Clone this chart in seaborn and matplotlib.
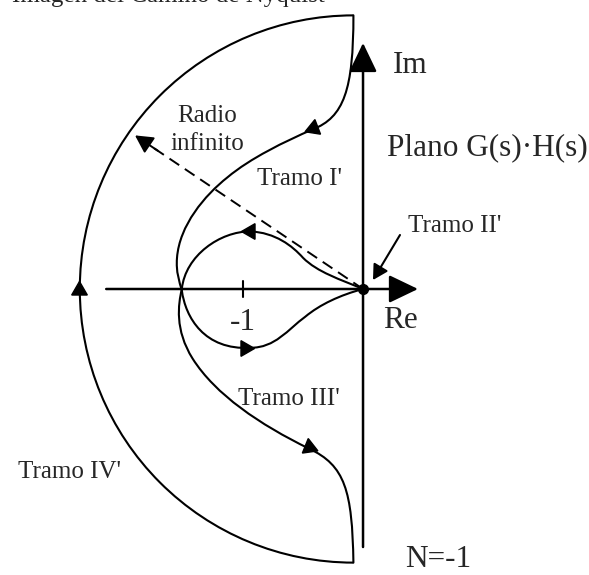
import matplotlib
matplotlib.use("Agg")
import matplotlib.pyplot as plt
import seaborn as sns
from matplotlib.path import Path
from matplotlib.patches import PathPatch, Arc

# Bezier control points in the G(s)H(s) plane (unit = distance from 0 to -1)
# Tramo I': from the top of the big arc, down and into the lower part of the loop, ending at the origin
tramo1_re = [-0.08, -0.08, -0.16, -0.42, -0.65, -0.94, -1.13, -1.32, -1.53, -1.55,
             -1.56, -1.53, -1.51, -1.48, -1.32, -0.94, -0.73, -0.63, -0.48, -0.36, -0.19, 0.0]
tramo1_im = [2.28, 1.66, 1.43, 1.33, 1.23, 1.09, 0.93, 0.78, 0.53, 0.26,
             0.14, 0.06, -0.01, -0.24, -0.51, -0.49, -0.49, -0.34, -0.23, -0.13, -0.05, 0.0]

# Tramo III': from the origin, the upper part of the loop, down to the bottom of the big arc
tramo3_re = [0.0, -0.19, -0.38, -0.50, -0.59, -0.73, -0.94, -1.19, -1.48, -1.51,
             -1.54, -1.57, -1.42, -1.23, -0.86, -0.45, -0.15, -0.09, -0.08]
tramo3_im = [0.0, 0.08, 0.14, 0.26, 0.36, 0.47, 0.48, 0.48, 0.28, 0.0,
             -0.13, -0.34, -0.58, -0.88, -1.13, -1.33, -1.47, -1.68, -2.28]

# Tramo IV': arc of "infinite" radius
arc_center = (-0.08, 0.0)
arc_radius = 2.28

# direction arrows on the contour: position and heading (degrees)
flow_re = [-0.42, -0.94, -0.98, -0.45, -2.37]
flow_im = [1.34, 0.48, -0.49, -1.32, -0.01]
flow_angle = [201, 180, 0, -22, 90]

# Radio infinito line end, point -1
radio_tip = (-1.90, 1.28)
minus_one = -1.0

sns.set_theme(style="white")
plt.rcParams['font.family'] = ['Liberation Serif', 'DejaVu Serif']

fig = plt.figure(figsize=(5.89, 5.75), dpi=100)
ax = fig.add_axes([0, 0, 1, 1])
ax.set_xlim(-3.025, 1.883)
ax.set_ylim(-2.383, 2.408)
ax.set_aspect('equal')
ax.set_axis_off()

lw_curve = 1.5


def bezier(xs, ys):
    codes = [Path.MOVETO] + [Path.CURVE4] * (len(xs) - 1)
    return PathPatch(Path(list(zip(xs, ys)), codes), fill=False,
                     edgecolor='black', lw=lw_curve, capstyle='round')


ax.add_patch(bezier(tramo1_re, tramo1_im))
ax.add_patch(bezier(tramo3_re, tramo3_im))
ax.add_patch(Arc(arc_center, 2 * arc_radius, 2 * arc_radius, theta1=90, theta2=270,
                 color='black', lw=lw_curve))

# flow arrows (triangles rotated along the path)
for x, y, a in zip(flow_re, flow_im, flow_angle):
    ax.plot(x, y, marker=(3, 0, a - 90), markersize=13, color='black', linestyle='none')

# axes of the plane
ax.annotate("", xy=(0.458, 0), xytext=(-2.14, 0),
            arrowprops=dict(arrowstyle="-|>,head_length=1.0,head_width=0.48",
                            mutation_scale=18, lw=1.8, color='black', shrinkA=0, shrinkB=0))
ax.annotate("", xy=(0, 2.05), xytext=(0, -2.15),
            arrowprops=dict(arrowstyle="-|>,head_length=1.0,head_width=0.48",
                            mutation_scale=18, lw=1.8, color='black', shrinkA=0, shrinkB=0))
sns.lineplot(x=[minus_one, minus_one], y=[-0.065, 0.065], ax=ax, color='black', lw=1.5,
             sort=False, estimator=None)

# radio infinito (dashed)
sns.lineplot(x=[0, radio_tip[0] * 0.95], y=[0, radio_tip[1] * 0.95], ax=ax, color='black',
             lw=1.4, linestyle=(0, (6, 3.5)), sort=False, estimator=None)
ax.annotate("", xy=radio_tip, xytext=(radio_tip[0] * 0.9, radio_tip[1] * 0.9),
            arrowprops=dict(arrowstyle="-|>,head_length=0.9,head_width=0.48",
                            mutation_scale=12, lw=1.4, color='black', shrinkA=0, shrinkB=0))

# Tramo II' pointer and the origin
ax.annotate("", xy=(0.083, 0.075), xytext=(0.308, 0.45),
            arrowprops=dict(arrowstyle="-|>,head_length=0.9,head_width=0.5",
                            mutation_scale=10, lw=1.5, color='black', shrinkA=0, shrinkB=0))
ax.plot(0, 0, marker='o', markersize=7, color='black')

# texts
small = 18
big = 22.5
ax.text(-2.925, 2.39, "Imagen del Camino de Nyquist", fontsize=small, va='baseline')
ax.text(-1.30, 1.392, "Radio", fontsize=small, ha='center', va='baseline')
ax.text(-1.30, 1.158, "infinito", fontsize=small, ha='center', va='baseline')
ax.text(-0.883, 0.867, "Tramo I'", fontsize=small, va='baseline')
ax.text(0.375, 0.475, "Tramo II'", fontsize=small, va='baseline')
ax.text(-1.042, -0.967, "Tramo III'", fontsize=small, va='baseline')
ax.text(-2.875, -1.575, "Tramo IV'", fontsize=small, va='baseline')
ax.text(0.25, 1.80, "Im", fontsize=big, va='baseline')
ax.text(0.20, 1.117, "Plano G(s)·H(s)", fontsize=big, va='baseline')
ax.text(minus_one, -0.342, "-1", fontsize=big, ha='center', va='baseline')
ax.text(0.167, -0.325, "Re", fontsize=big, va='baseline')
ax.text(0.35, -2.317, "N=-1", fontsize=big, va='baseline')

fig.savefig("out.png", dpi=100)
